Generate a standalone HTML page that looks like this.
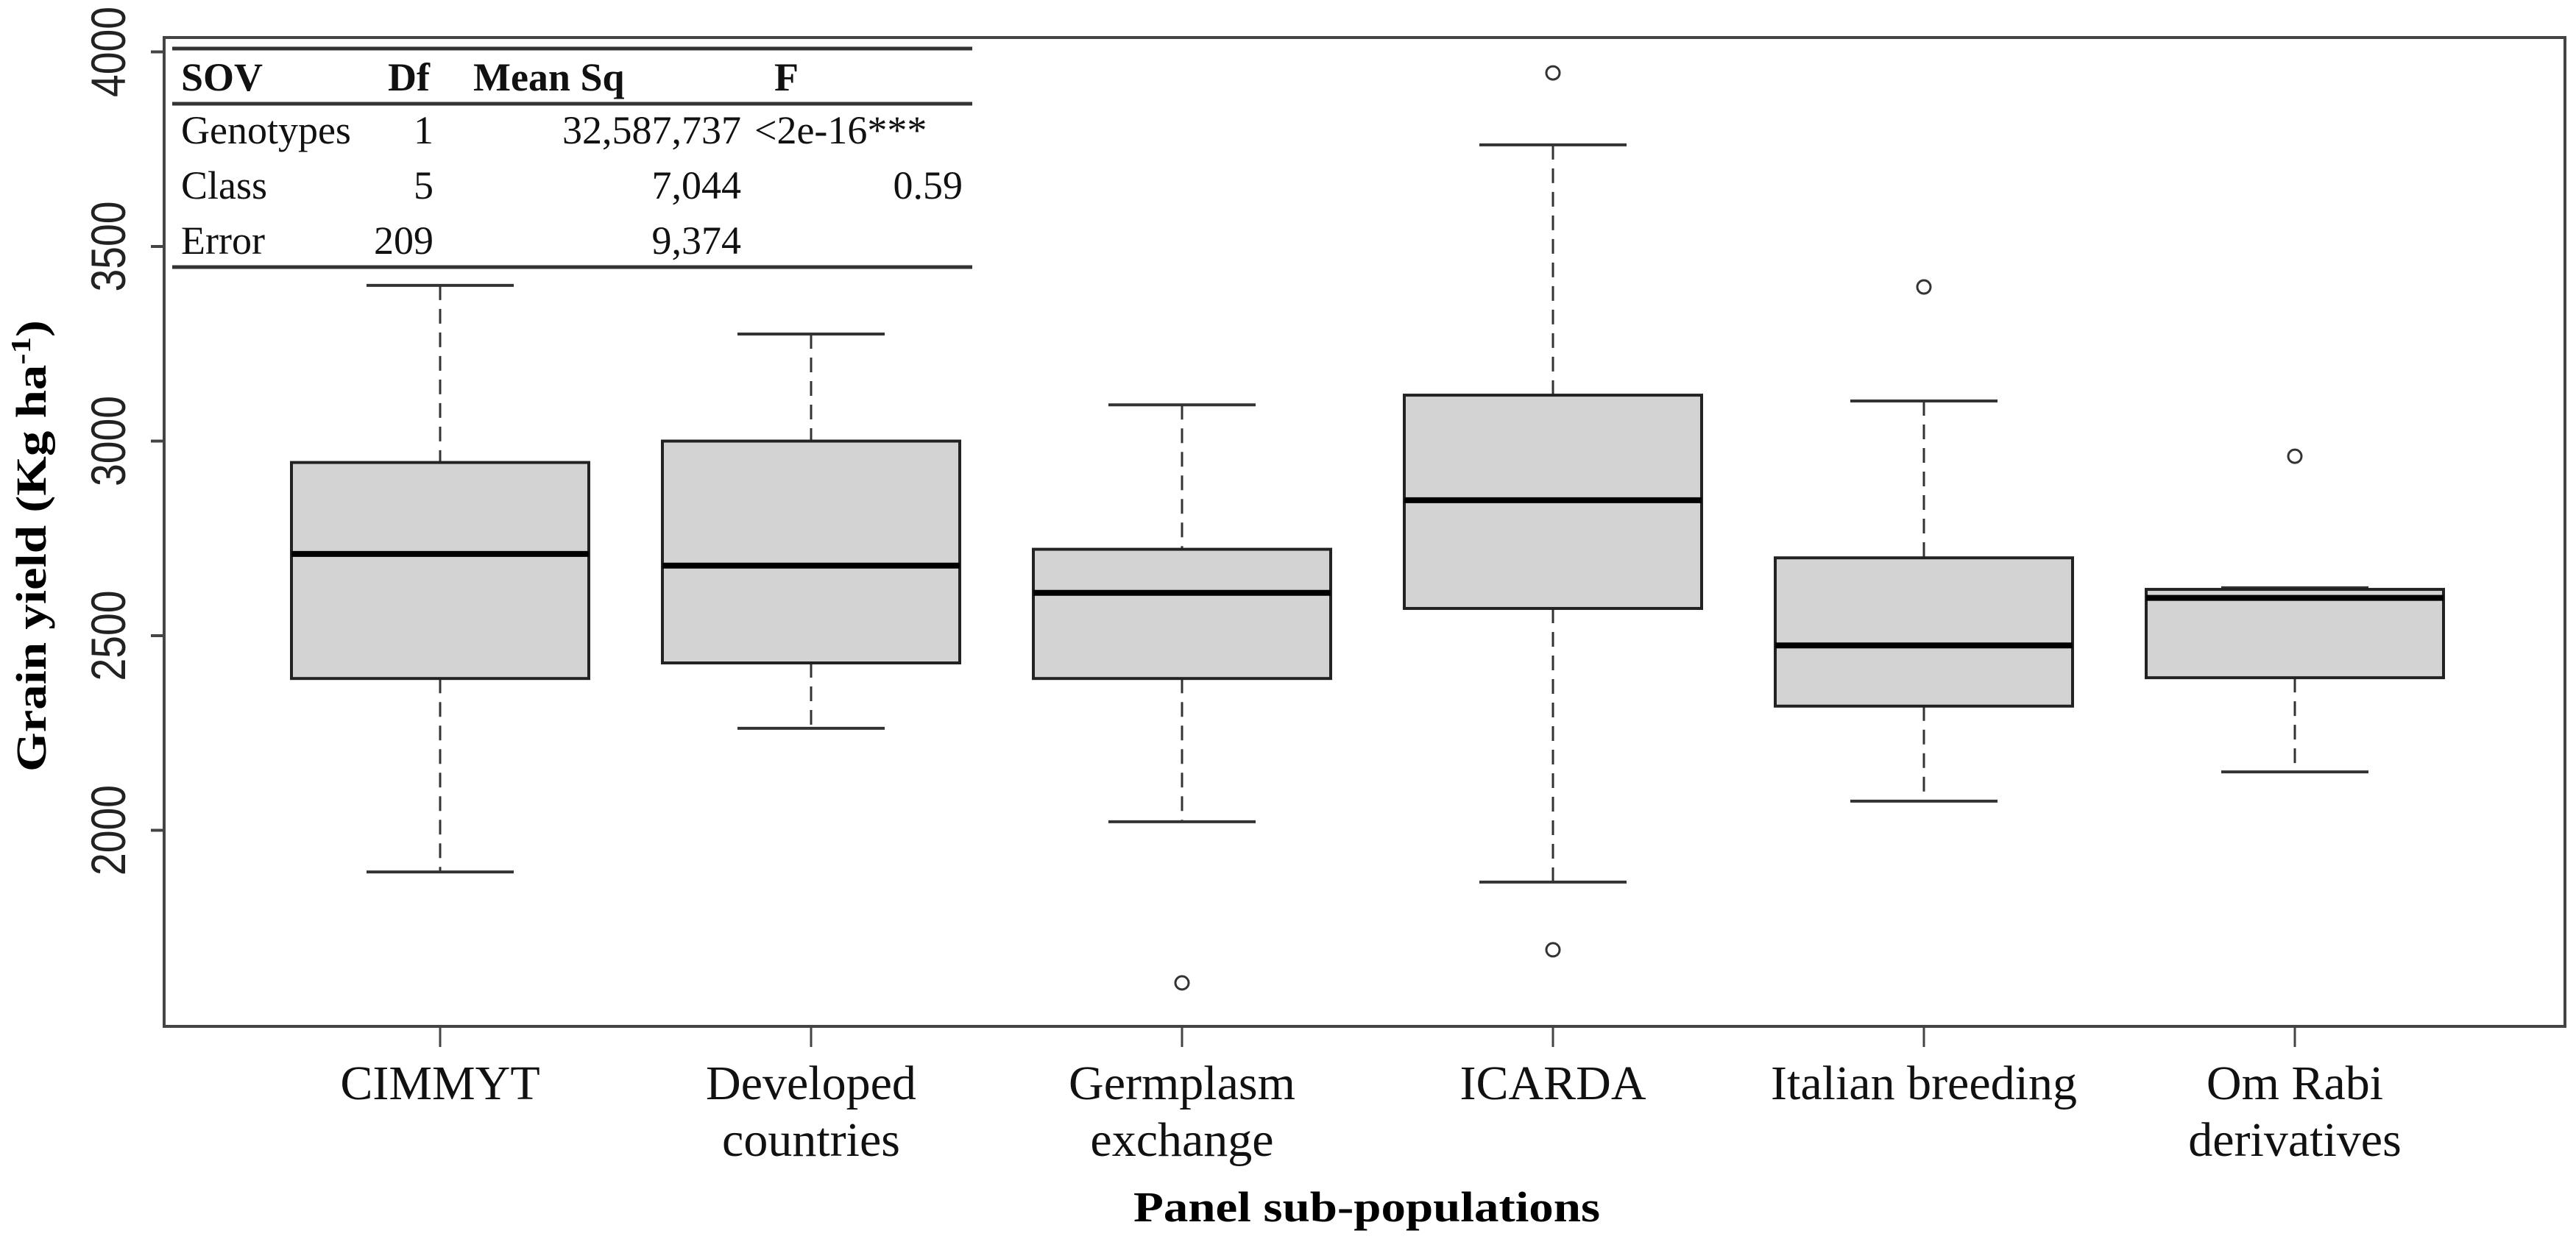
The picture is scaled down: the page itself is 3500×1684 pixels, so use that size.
<!DOCTYPE html>
<html><head><meta charset="utf-8"><style>html,body{margin:0;padding:0;background:#fff}svg{display:block}</style></head>
<body>
<svg id="chart" width="3500" height="1684" viewBox="0 0 3500 1684" xmlns="http://www.w3.org/2000/svg" font-family="'Liberation Serif', serif">
<g id="table" font-size="54" fill="#111">
  <line x1="234" y1="66" x2="1321" y2="66" stroke="#333" stroke-width="5"/>
  <line x1="234" y1="141" x2="1321" y2="141" stroke="#333" stroke-width="5"/>
  <line x1="234" y1="363" x2="1321" y2="363" stroke="#333" stroke-width="5"/>
  <g font-weight="bold">
    <text x="246" y="123">SOV</text><text x="527" y="123">Df</text><text x="643" y="123">Mean Sq</text><text x="1052" y="123">F</text>
  </g>
  <g><text x="246" y="195">Genotypes</text><text x="589" y="195" text-anchor="end">1</text><text x="1007" y="195" text-anchor="end">32,587,737</text><text x="1025" y="195">&lt;2e-16***</text></g>
  <g><text x="246" y="270">Class</text><text x="589" y="270" text-anchor="end">5</text><text x="1007" y="270" text-anchor="end">7,044</text><text x="1308" y="270" text-anchor="end">0.59</text></g>
  <g><text x="246" y="345">Error</text><text x="589" y="345" text-anchor="end">209</text><text x="1007" y="345" text-anchor="end">9,374</text></g>
</g>
<rect x="223" y="51" width="3262" height="1344" fill="none" stroke="#444" stroke-width="4"/>
<g id="marks"></g>
<text transform="translate(62,742) rotate(-90)" text-anchor="middle" font-weight="bold" font-size="58" textLength="614" lengthAdjust="spacingAndGlyphs">Grain yield (Kg ha<tspan baseline-shift="super" font-size="38">-1</tspan>)</text>
<text x="1857" y="1660" text-anchor="middle" font-weight="bold" font-size="58" textLength="634" lengthAdjust="spacingAndGlyphs">Panel sub-populations</text>
</svg>
<script>
const categories = [["CIMMYT"],["Developed","countries"],["Germplasm","exchange"],["ICARDA"],["Italian breeding"],["Om Rabi","derivatives"]];
const whiskerLow = [1893, 2262, 2022, 1867, 2075, 2150];
const q1 = [2390, 2430, 2390, 2570, 2319, 2392];
const median = [2710, 2680, 2610, 2848, 2475, 2597];
const q3 = [2945, 3000, 2722, 3118, 2700, 2619];
const whiskerHigh = [3400, 3275, 3093, 3761, 3103, 2623];
const outliers = [[], [], [1608], [3946, 1693], [3396], [2961]];
const yTicks = [2000, 2500, 3000, 3500, 4000];

const NS = "http://www.w3.org/2000/svg";
const g = document.getElementById("marks");
const yS = v => 335 + (3500 - v) * 0.529;
const xS = i => 598 + 504 * i;
function mk(tag, attrs, parent) {
  const e = document.createElementNS(NS, tag);
  for (const k in attrs) e.setAttribute(k, attrs[k]);
  (parent || g).appendChild(e);
  return e;
}
yTicks.forEach(t => {
  const tk = mk("line", {x1: 205, x2: 223, y1: yS(t), y2: yS(t), stroke: "#444", "stroke-width": 4});
  
  
  const lb = mk("text", {transform: `translate(170,${yS(t)}) rotate(-90)`, "text-anchor": "middle", "font-size": 66, "font-family": "'Liberation Sans', sans-serif", fill: "#222", textLength: 123, lengthAdjust: "spacingAndGlyphs"});
  lb.textContent = t;
  
  
});
categories.forEach((lines, i) => {
  const x = xS(i), hw = 202, cw = 100;
  const grp = mk("g", {});
  
  
  mk("line", {x1: x, x2: x, y1: yS(whiskerHigh[i]), y2: yS(q3[i]), stroke: "#333", "stroke-width": 3, "stroke-dasharray": "20 12"}, grp);
  mk("line", {x1: x, x2: x, y1: yS(q1[i]), y2: yS(whiskerLow[i]), stroke: "#333", "stroke-width": 3, "stroke-dasharray": "20 12"}, grp);
  mk("line", {x1: x - cw, x2: x + cw, y1: yS(whiskerHigh[i]), y2: yS(whiskerHigh[i]), stroke: "#333", "stroke-width": 4}, grp);
  mk("line", {x1: x - cw, x2: x + cw, y1: yS(whiskerLow[i]), y2: yS(whiskerLow[i]), stroke: "#333", "stroke-width": 4}, grp);
  mk("rect", {x: x - hw, y: yS(q3[i]), width: 2 * hw, height: yS(q1[i]) - yS(q3[i]), fill: "#d3d3d3", stroke: "#222", "stroke-width": 4}, grp);
  mk("line", {x1: x - hw, x2: x + hw, y1: yS(median[i]), y2: yS(median[i]), stroke: "#000", "stroke-width": 8}, grp);
  outliers[i].forEach(o => {
    const c = mk("circle", {cx: x, cy: yS(o), r: 9, fill: "#fff", stroke: "#333", "stroke-width": 3}, grp);
    
    
  });
  const tk = mk("line", {x1: x, x2: x, y1: 1395, y2: 1423, stroke: "#444", "stroke-width": 3});
  
  
  lines.forEach((ln, j) => {
    const t = mk("text", {x: x, y: 1494 + 77 * j, "text-anchor": "middle", "font-size": 66, fill: "#111"});
    t.textContent = ln;
    
    
  });
});
</script>
</body></html>
